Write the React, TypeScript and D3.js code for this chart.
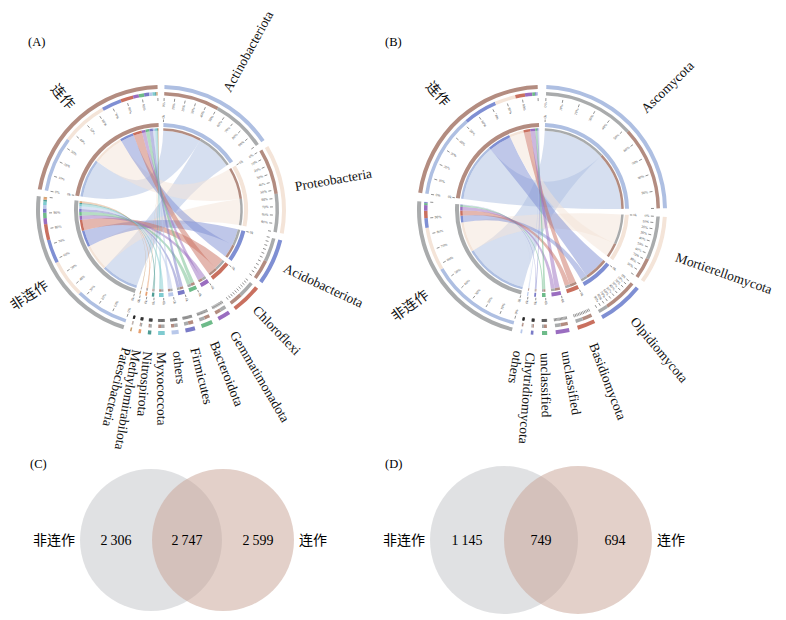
import React from "react";
import * as d3 from "d3";

const FONT = "'Liberation Serif', 'Times New Roman', 'Noto Sans CJK SC', serif";

// ---------- shared groups ----------
const groupNames = ["连作", "非连作"];
const groupColors = ["#B38C80", "#A9ABAC"];

// ---------- Panel A (bacteria) ----------
const phylaA = [
  "Actinobacteriota", "Proteobacteria", "Acidobacteriota", "Chloroflexi",
  "Gemmatimonadota", "Bacteroidota", "Firmicutes", "others",
  "Myxococcota", "Nitrospirota", "Methylomirabilota", "Patescibacteria",
];
const phylaColorsA = [
  "#AEBFE2", "#F4E4D8", "#7F8FD3", "#C9705F",
  "#9A6DC0", "#6EBB8A", "#7A7BC7", "#B8C8EA",
  "#7FCBD0", "#4E9C94", "#E8A070", "#C9A070",
];
const lianzuoA = [35, 29, 12.5, 8, 3.6, 3.4, 3.2, 2.0, 1.7, 0.8, 0.5, 0.3];
const feilianzuoA = [34, 24, 15, 10, 3.8, 3.4, 2.6, 2.2, 2.2, 1.2, 1.0, 0.6];

// ---------- Panel B (fungi) ----------
const phylaB = [
  "Ascomycota", "Mortierellomycota", "Olpidiomycota", "Basidiomycota",
  "unclassified", "unclassified", "Chytridiomycota", "others",
];
const phylaColorsB = [
  "#AEBFE2", "#F4E4D8", "#7F8FD3", "#C9705F",
  "#9A6DC0", "#6EBB8A", "#7A7BC7", "#B8C8EA",
];
const lianzuoB = [52, 13, 21, 6, 4.5, 1.8, 0.9, 0.8];
const feilianzuoB = [57, 27, 6, 4.5, 3.5, 1.2, 0.6, 0.2];

// ---------- Venn ----------
const vennNames = ["非连作", "连作"];
const vennC = [2306, 2747, 2599];
const vennD = [1145, 749, 694];

const tickPercents = [0, 10, 20, 30, 40, 50, 60, 70, 80, 90, 100];

// ---------- radii ----------
const R_OUT1 = 125, R_OUT0 = 121;
const R_COMP1 = 118, R_COMP0 = 114.5;
const R_TICK1 = 112, R_TICK0 = 109;
const R_TLAB = 107.5;
const R_IN1 = 87, R_IN0 = 83;
const R_STRIP1 = 81.8, R_STRIP0 = 79.3;
const R_RIB = 79.3;

const DEG = Math.PI / 180;

type Sub = { partner: number; value: number; a0: number; a1: number };
type Sector = { type: "g" | "p"; i: number; start: number; end: number; subs: Sub[] };

function buildLayout(nP: number, matrix: number[][], gapDeg: number): Sector[] {
  const nG = matrix.length;
  const total = 2 * d3.sum(matrix, (r) => d3.sum(r));
  const gap = gapDeg * DEG;
  const k = (2 * Math.PI - gap * (nG + nP)) / total;
  const order: { type: "g" | "p"; i: number }[] = [
    ...d3.range(nP).map((i) => ({ type: "p" as const, i })),
    ...d3.range(nG).reverse().map((i) => ({ type: "g" as const, i })),
  ];
  let a = gap / 2;
  return order.map((o) => {
    const vals = o.type === "p" ? matrix.map((row) => row[o.i]) : matrix[o.i];
    const partners = d3.range(vals.length).sort((x, y) => vals[y] - vals[x]);
    const start = a;
    const subs = partners.map((j) => {
      const s = { partner: j, value: vals[j], a0: a, a1: a + vals[j] * k };
      a = s.a1;
      return s;
    });
    const end = a;
    a += gap;
    return { ...o, start, end, subs };
  });
}

function pt(a: number, r: number): [number, number] {
  return [r * Math.sin(a), -r * Math.cos(a)];
}

function radialTransform(a: number, r: number, flip: boolean) {
  const d = a / DEG - 90;
  return `rotate(${d}) translate(${r},0)` + (flip ? " rotate(180)" : "");
}

type ChordProps = {
  cx: number; cy: number; phyla: string[]; phylaColors: string[];
  matrix: number[][]; gapDeg: number; labelR: number; labelRSmall: number;
  tickLabelMinDeg: number;
};

function Chord(props: ChordProps) {
  const { cx, cy, phyla, phylaColors, matrix, gapDeg, labelR, labelRSmall, tickLabelMinDeg } = props;
  const sectors = buildLayout(phyla.length, matrix, gapDeg);
  const arc = d3.arc<any>();
  const ribbon = d3.ribbon<any, any>().radius(R_RIB);
  const nameOf = (s: Sector) => (s.type === "g" ? groupNames[s.i] : phyla[s.i]);
  const colorOf = (s: Sector) => (s.type === "g" ? groupColors[s.i] : phylaColors[s.i]);
  const partnerColor = (s: Sector, j: number) => (s.type === "g" ? phylaColors[j] : groupColors[j]);

  const ribbons: { value: number; color: string; d: string }[] = [];
  matrix.forEach((row, g) => {
    row.forEach((v, p) => {
      const gs = sectors.find((s) => s.type === "g" && s.i === g)!;
      const ps = sectors.find((s) => s.type === "p" && s.i === p)!;
      const ss = gs.subs.find((s) => s.partner === p)!;
      const ts = ps.subs.find((s) => s.partner === g)!;
      const d = ribbon({
        source: { startAngle: ss.a0, endAngle: ss.a1 },
        target: { startAngle: ts.a0, endAngle: ts.a1 },
      }) as unknown as string;
      ribbons.push({ value: v, color: phylaColors[p], d });
    });
  });
  ribbons.sort((a, b) => b.value - a.value);

  return (
    <g transform={`translate(${cx},${cy})`}>
      {ribbons.map((r, i) => (
        <path key={"rb" + i} d={r.d} fill={r.color} fillOpacity={0.5} stroke="none" />
      ))}
      {sectors.map((s, si) => {
        const span = (s.end - s.start) / DEG;
        const mid = (s.start + s.end) / 2;
        const midDeg = mid / DEG;
        const flip = midDeg > 200;
        const showTickLabels = span >= tickLabelMinDeg;
        const lr = span < 10 ? labelRSmall : labelR;
        return (
          <g key={"s" + si}>
            <path d={arc({ innerRadius: R_OUT0, outerRadius: R_OUT1, startAngle: s.start, endAngle: s.end })!} fill={colorOf(s)} />
            {s.subs.map((b, bi) => (
              <path key={"c" + bi} d={arc({ innerRadius: R_COMP0, outerRadius: R_COMP1, startAngle: b.a0, endAngle: b.a1 })!} fill={partnerColor(s, b.partner)} />
            ))}
            {tickPercents.map((t) => {
              const a = s.start + ((s.end - s.start) * t) / 100;
              const [x0, y0] = pt(a, R_TICK0);
              const [x1, y1] = pt(a, R_TICK1);
              return <line key={"t" + t} x1={x0} y1={y0} x2={x1} y2={y1} stroke="#222" strokeWidth={0.5} />;
            })}
            {showTickLabels &&
              tickPercents.filter((t) => t < 100).map((t) => {
                const a = s.start + ((s.end - s.start) * t) / 100;
                const fl = a / DEG > 180;
                return (
                  <text key={"tl" + t} transform={radialTransform(a, R_TLAB, fl)} fontSize={3.6} fill="#444"
                    textAnchor={fl ? "start" : "end"} dominantBaseline="central">{`${t}%`}</text>
                );
              })}
            <path d={arc({ innerRadius: R_IN0, outerRadius: R_IN1, startAngle: s.start, endAngle: s.end })!} fill={colorOf(s)} />
            {s.subs.map((b, bi) => (
              <path key={"st" + bi} d={arc({ innerRadius: R_STRIP0, outerRadius: R_STRIP1, startAngle: b.a0, endAngle: b.a1 })!} fill={partnerColor(s, b.partner)} />
            ))}
            {(() => {
              const [x0, y0] = pt(s.start, 88);
              const [x1, y1] = pt(s.start, 90.5);
              const fl = s.start / DEG > 180;
              return (
                <g>
                  <line x1={x0} y1={y0} x2={x1} y2={y1} stroke="#222" strokeWidth={0.5} />
                  <text transform={radialTransform(s.start, 91.5, fl)} fontSize={3.6} fill="#444"
                    textAnchor={fl ? "end" : "start"} dominantBaseline="central">0k</text>
                </g>
              );
            })()}
            <text transform={radialTransform(mid, lr, flip)} fontSize={s.type === "g" ? 14 : 13.5} fill="#111"
              textAnchor={flip ? "end" : "start"} dominantBaseline="central">{nameOf(s)}</text>
          </g>
        );
      })}
    </g>
  );
}

const fmt = (v: number) => d3.format(",")(v).replace(/,/g, "\u2009");

function Venn(props: { cx1: number; cx2: number; cy: number; r: number; values: number[] }) {
  const { cx1, cx2, cy, r, values } = props;
  const leftOnly = (cx1 - r + cx2 - r) / 2;
  const mid = (cx2 - r + cx1 + r) / 2;
  const rightOnly = (cx1 + r + cx2 + r) / 2;
  return (
    <g>
      <circle cx={cx1} cy={cy} r={r} fill="#C9CBCE" fillOpacity={0.58} />
      <circle cx={cx2} cy={cy} r={r} fill="#C8A294" fillOpacity={0.5} />
      <text x={cx1 - r - 5} y={cy} fontSize={14} textAnchor="end" dominantBaseline="central">{vennNames[0]}</text>
      <text x={cx2 + r + 5} y={cy} fontSize={14} textAnchor="start" dominantBaseline="central">{vennNames[1]}</text>
      <text x={leftOnly} y={cy} fontSize={14} textAnchor="middle" dominantBaseline="central">{fmt(values[0])}</text>
      <text x={mid} y={cy} fontSize={14} textAnchor="middle" dominantBaseline="central">{fmt(values[1])}</text>
      <text x={rightOnly} y={cy} fontSize={14} textAnchor="middle" dominantBaseline="central">{fmt(values[2])}</text>
    </g>
  );
}

export default function App() {
  return (
    <svg width={786} height={620} style={{ position: "absolute", left: 0, top: 0, background: "#fff" }} fontFamily={FONT}>
      <rect width={786} height={620} fill="#fff" />
      <text x={28} y={46} fontSize={12.5}>(A)</text>
      <text x={385} y={46} fontSize={12.5}>(B)</text>
      <text x={30} y={468} fontSize={12.5}>(C)</text>
      <text x={385} y={468} fontSize={12.5}>(D)</text>
      <Chord cx={161} cy={210} phyla={phylaA} phylaColors={phylaColorsA} matrix={[lianzuoA, feilianzuoA]}
        gapDeg={3.2} labelR={136} labelRSmall={142} tickLabelMinDeg={25} />
      <Chord cx={542} cy={210} phyla={phylaB} phylaColors={phylaColorsB} matrix={[lianzuoB, feilianzuoB]}
        gapDeg={4} labelR={142} labelRSmall={143} tickLabelMinDeg={18} />
      <Venn cx1={151} cx2={223} cy={540} r={71} values={vennC} />
      <Venn cx1={504} cx2={578} cy={540} r={74} values={vennD} />
    </svg>
  );
}
